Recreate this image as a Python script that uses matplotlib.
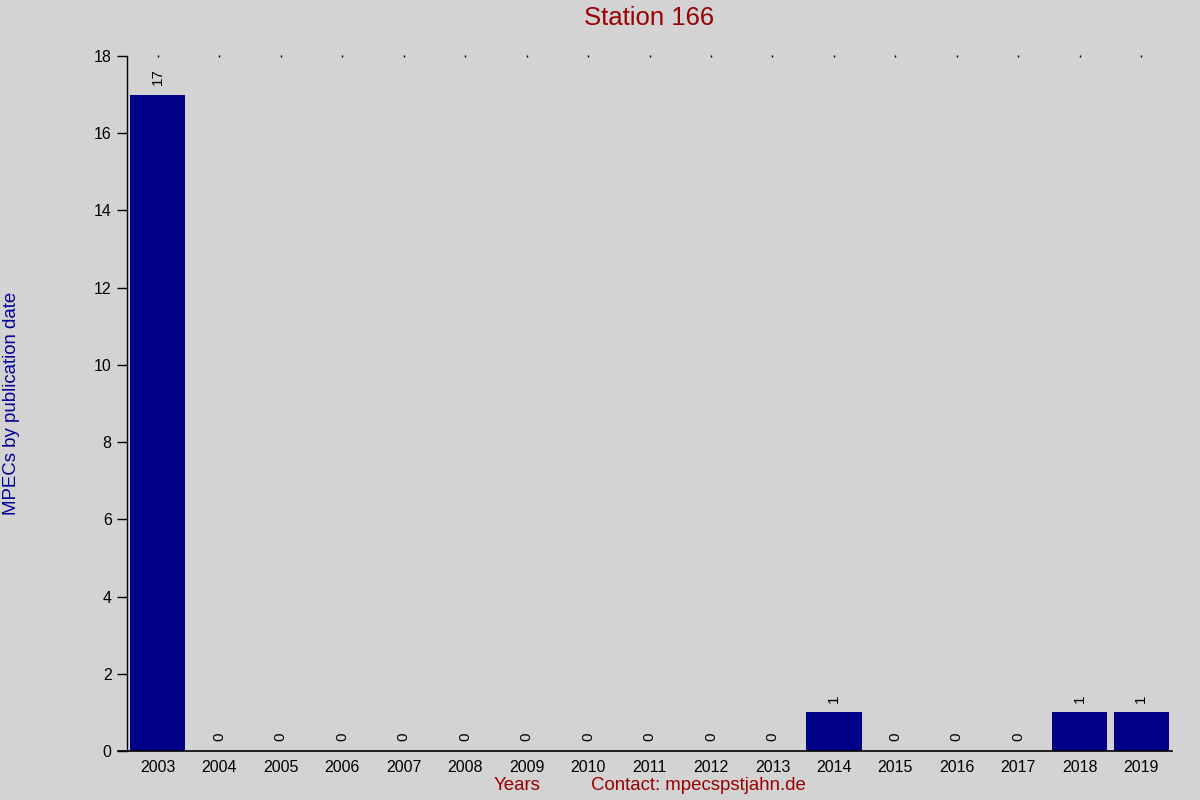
import matplotlib
matplotlib.use("Agg")
import matplotlib.pyplot as plt
from matplotlib.lines import Line2D

years = ["2003", "2004", "2005", "2006", "2007", "2008", "2009", "2010", "2011",
         "2012", "2013", "2014", "2015", "2016", "2017", "2018", "2019"]
counts = [17, 0, 0, 0, 0, 0, 0, 0, 0, 0, 0, 1, 0, 0, 0, 1, 1]
yticks = [0, 2, 4, 6, 8, 10, 12, 14, 16, 18]

plt.rcParams['font.family'] = ['Liberation Sans', 'DejaVu Sans']
bg = "#D3D3D3"
fig = plt.figure(figsize=(12, 8), dpi=100, facecolor=bg)
ax = fig.add_axes([127/1200, 49/800, 1045/1200, 695/800])
ax.set_facecolor(bg)

x = list(range(len(years)))
ax.bar(x, counts, width=0.9, color="#000088", zorder=2)
for xi, c in zip(x, counts):
    ax.annotate(str(c), (xi, c), xytext=(0, 7), textcoords="offset points",
                rotation=90, ha="center", va="bottom", fontsize=11, color="black")

ax.set_xlim(-0.5, len(years) - 0.5)
ax.set_ylim(0, 18)
ax.set_yticks(yticks)
ax.set_xticks(x)
ax.set_xticklabels(years)
ax.tick_params(axis='y', length=7, width=1, labelsize=11.5, pad=4)
ax.tick_params(axis='x', bottom=False, top=True, direction='inout', length=1.2,
               width=1, labelsize=11.5, pad=6)
for s in ["top", "right"]:
    ax.spines[s].set_visible(False)
ax.spines["bottom"].set_visible(False)
ax.spines["left"].set_linewidth(1)
ax.add_line(Line2D([-9/1045, 1], [0, 0], transform=ax.transAxes, color="black",
                   lw=1.2, clip_on=False, zorder=3))

fig.text(649/1200, 1 - 18/800, "Station 166", ha="center", va="center",
         fontsize=18.5, color="#990000")
fig.text(12/1200, 1 - 403/800, "MPECs by publication date", rotation=90,
         ha="center", va="center", fontsize=13.4, color="#000099")
fig.text(517/1200, 1 - 786/800, "Years", ha="center", va="center",
         fontsize=13.4, color="#990000")
fig.text(698/1200, 1 - 786/800, "Contact: mpecspstjahn.de", ha="center", va="center",
         fontsize=13.4, color="#990000")

fig.savefig("out.png", dpi=100, facecolor=bg)
